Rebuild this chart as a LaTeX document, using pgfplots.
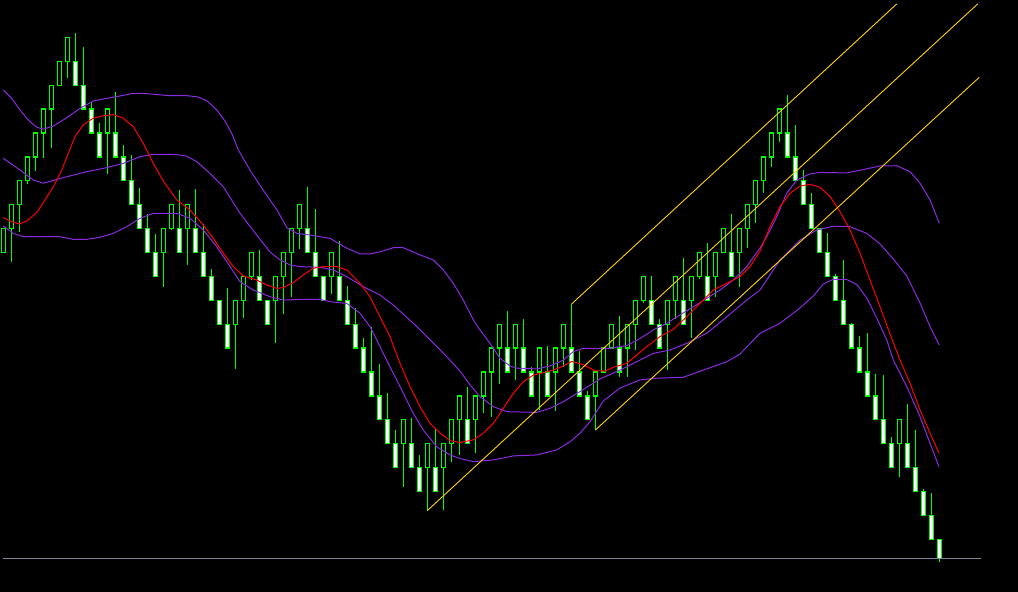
\documentclass[border=0pt]{standalone}
\usepackage{pgfplots}
\usepackage{pgfplotstable}
\pgfplotsset{compat=1.18}

\definecolor{candle}{RGB}{0,255,0}
\definecolor{band}{RGB}{138,43,226}
\definecolor{ma}{RGB}{255,0,0}
\definecolor{chan}{RGB}{255,210,0}
\definecolor{bid}{RGB}{119,136,153}

% renko bricks: index, open, high, low, close (brick units)
\pgfplotstableread{
i o h l c
0 12 13 12 13
1 13 14 11.6 14
2 14 15 12.85 15
3 15 16 14.85 16
4 16 17 15.4 17
5 17 18 15.94 18
6 18 19 16.36 19
7 19 20 19 20
8 20 21 19.29 21
9 20 21.2 19 19
10 19 20.6 18 18
11 18 18.3 17 17
12 17 17.4 16 16
13 17 18 15.28 18
14 17 18.7 16 16
15 16 16.5 15 15
16 15 16.1 14 14
17 14 14.7 13 13
18 13 13.6 12 12
19 12 12.77 11 11
20 12 13 10.57 13
21 13 14 12.94 14
22 13 14.6 12 12
23 13 14 11.48 14
24 13 14.66 12 12
25 12 13.2 11 11
26 11 11.3 10 10
27 10 10 9 9
28 9 10.5 8 8
29 9 10 7.14 10
30 10 11 9.25 11
31 11 12 10.85 12
32 11 12.1 10 10
33 10 10 9 9
34 10 11 8.2 11
35 11 12 9.41 12
36 12 13 10.15 13
37 13 14 12.13 14
38 13 14.75 12 12
39 12 13.8 11 11
40 11 11 10 10
41 11 12 10.25 12
42 11 12.48 10 10
43 10 10.6 9 9
44 9 9.66 8 8
45 8 8.41 7 7
46 7 8.9 6 6
47 6 7.33 5 5
48 5 6.13 4 4
49 4 4.57 3 3
50 4 5 2.2 5
51 4 5.08 3 3
52 3 3.53 2 2
53 3 4 1.2 4
54 3 4.64 2 2
55 3 4 1.23 4
56 4 5 3.22 5
57 5 6 3.53 6
58 5 6.38 4 4
59 5 6 3.6 6
60 6 7 5.3 7
61 7 8 5.13 8
62 8 9 6.5 9
63 8 9.55 7 7
64 8 9 6.67 9
65 8 9.22 7 7
66 7 7.22 6 6
67 7 8 5.41 8
68 7 8.1 6 6
69 7 8 5.38 8
70 8 9 7.2 9
71 8 9.85 7 7
72 7 7.88 6 6
73 6 6.2 5 5
74 6 7 4.57 7
75 7 8 7 8
76 8 9 8 9
77 8 9.34 6.8 7
78 8 9 6.8 9
79 9 10 7.9 10
80 10 11 9.9 11
81 10 11 9 9
82 9 9.2 8 8
83 9 10 7.08 10
84 10 11 9.2 11
85 10 11.76 9 9
86 10 11 8.41 11
87 11 12 10.9 12
88 11 12.4 10 10
89 11 12 10.15 12
90 12 13 12 13
91 12 13.6 11 11
92 12 13 10.57 13
93 13 14 12.2 14
94 14 15 13.25 15
95 15 16 14.48 16
96 16 17 15.56 17
97 17 18 16.64 18
98 17 18.59 16 16
99 16 17.33 15 15
100 15 15.45 14 14
101 14 14.48 13 13
102 13 13 12 12
103 12 12.83 11 11
104 11 11.1 10 10
105 10 11.69 9 9
106 9 9.07 8 8
107 8 8.5 7 7
108 7 8.63 6 6
109 6 6.92 5 5
110 5 6.87 4 4
111 4 4.28 3 3
112 4 5 2.62 5
113 4 5.66 3 3
114 3 4.57 2 2
115 2 2.1 1 1
116 1 1.94 0 0
117 0 0 -0.94 -0.8
}\candles

\begin{document}
\begin{tikzpicture}
\begin{axis}[
    width=1018pt, height=592pt, scale only axis,
    xmin=-0.4125, xmax=126.8375,
    ymin=-2.205, ymax=22.565,
    axis line style={draw=none},
    ticks=none,
    axis background/.style={fill=black},
    wick/.style={candle, line width=1.3pt},
    body/.style={draw=candle, line width=1.3pt},
  ]

  \pgfplotstablegetrowsof{\candles}
  \pgfmathtruncatemacro{\lastrow}{\pgfplotsretval-1}
  \pgfplotsforeachungrouped \k in {0,...,\lastrow}{%
    \pgfplotstablegetelem{\k}{i}\of\candles \let\ci=\pgfplotsretval
    \pgfplotstablegetelem{\k}{o}\of\candles \let\co=\pgfplotsretval
    \pgfplotstablegetelem{\k}{h}\of\candles \let\ch=\pgfplotsretval
    \pgfplotstablegetelem{\k}{l}\of\candles \let\cl=\pgfplotsretval
    \pgfplotstablegetelem{\k}{c}\of\candles \let\cc=\pgfplotsretval
    \pgfmathsetmacro{\xa}{\ci-0.24}%
    \pgfmathsetmacro{\xb}{\ci+0.24}%
    \pgfmathtruncatemacro{\up}{\cc>\co ? 1 : 0}%
    \ifnum\up=1 \def\bfill{black}\else\def\bfill{white}\fi
    \edef\doplot{%
      \noexpand\addplot[wick] coordinates {(\ci,\cl) (\ci,\ch)};
      \noexpand\addplot[body, fill=\bfill] coordinates
        {(\xa,\co) (\xb,\co) (\xb,\cc) (\xa,\cc) (\xa,\co)};
    }%
    \doplot
  }

  % upper band
  \addplot[band, line width=1pt] coordinates {
    (0,18.80) (1.05,18.45) (2.09,17.96) (3.13,17.54) (4.18,17.24) (5,17.16)
    (6.25,17.29) (7.93,17.64) (9.59,18.03) (11.25,18.34) (12.93,18.45)
    (14.59,18.55) (16.25,18.66) (17.5,18.66) (20.84,18.56) (22.71,18.57)
    (24.34,18.51) (25.46,18.34) (26.59,18.00) (27.71,17.50) (28.59,16.96)
    (29.38,16.29) (30.84,15.45) (32.46,14.62) (34.21,13.78) (35.46,13.03)
    (36.71,12.80) (38.34,12.73) (40.84,12.59) (42.93,12.18) (44.59,11.94)
    (45.84,11.94) (47.09,12.03) (48.75,12.20) (50,12.20) (52.09,11.90)
    (53.75,11.69) (55,11.27) (56.25,10.71) (57.5,10.01) (58.75,9.18)
    (59.59,8.76) (60.84,8.20) (62.09,7.57) (63.34,7.25) (64.18,7.16)
    (66.68,7.13) (68.34,7.25) (70,7.50) (71.25,7.85) (72.5,7.99) (74.18,7.98)
    (75.84,7.99) (77.93,8.11) (79.59,8.40) (81.25,8.76) (82.93,9.04)
    (84.59,9.39) (86.25,9.73) (87.93,10.08) (89.59,10.43) (91.25,10.85)
    (92.93,11.41) (94.59,12.19) (95.43,12.66) (96.68,13.50) (97.93,14.48)
    (99.18,15.03) (100.84,15.29) (102.09,15.35) (105.43,15.33) (107.5,15.47)
    (109.59,15.62) (111.68,15.63) (113.34,15.38) (114.59,14.90) (115.84,14.20)
    (117,13.22)
  };
  % middle band
  \addplot[band, line width=1pt] coordinates {
    (0,15.94) (2.09,15.45) (3.75,15.03) (5,14.90) (7.93,15.17) (10.43,15.38)
    (12.93,15.55) (15,15.73) (17.09,16.01) (18.75,16.11) (21.46,16.10)
    (22.84,16.04) (24.18,15.80) (25.84,15.31) (27.5,14.75) (29.59,13.64)
    (31.68,12.73) (33.34,12.02) (34.59,11.69) (35.84,11.48) (37.09,11.41)
    (39.59,11.38) (41.25,11.27) (42.93,10.99) (45,10.57) (47.09,10.22)
    (48.75,9.80) (51.25,9.04) (53.34,8.34) (55.43,7.64) (57.09,7.04)
    (58.34,6.46) (59.59,5.97) (61.25,5.55) (62.93,5.34) (66.68,5.31)
    (68.34,5.48) (70,5.76) (72.09,6.18) (74.59,6.71) (77.09,7.08) (79.59,7.50)
    (81.25,7.78) (83.34,7.92) (85.43,8.20) (87.93,8.62) (90.43,9.31)
    (92.93,10.01) (94.59,10.43) (97.09,11.69) (99.59,12.52) (101.68,12.94)
    (103.75,13.10) (105.84,13.08) (107.93,12.80) (109.59,12.36) (111.25,11.73)
    (112.93,11.02) (114.59,9.89) (115.84,8.90) (117,8.13)
  };
  % lower band
  \addplot[band, line width=1pt] coordinates {
    (0,13.11) (1.25,12.80) (2.5,12.66) (7.09,12.66) (8.75,12.55) (10.43,12.55)
    (12.09,12.64) (13.75,12.80) (15.43,13.08) (17.09,13.43) (18.75,13.64)
    (21.68,13.64) (23.34,13.43) (25,12.94) (26.68,12.24) (28.34,11.41)
    (29.59,10.78) (31.25,10.43) (33.34,10.15) (35,10.01) (37.5,10.04)
    (39.59,10.04) (40.84,9.94) (42.93,9.87) (44.59,9.46) (45.84,8.90)
    (47.09,8.06) (48.34,7.22) (49.59,6.39) (51.25,5.27) (52.5,4.57)
    (54.18,3.87) (55.84,3.53) (57.09,3.38) (58.75,3.25) (61.25,3.32)
    (63.75,3.49) (66.68,3.53) (69.18,3.74) (70.84,4.08) (72.09,4.44)
    (73.34,4.92) (75,5.79) (77.09,6.33) (79.59,6.67) (81.68,6.74) (85,6.78)
    (87.5,7.08) (90.43,7.43) (92.09,7.75) (94.59,8.62) (97.09,9.04)
    (99.59,9.68) (101.25,10.18) (102.5,10.68) (103.75,10.88) (105.43,10.87)
    (106.68,10.66) (107.93,10.10) (109.18,9.26) (110.43,8.34) (111.25,7.50)
    (112.93,6.39) (114.59,5.13) (115.84,4.02) (116.96,3.04)
  };
  % moving average
  \addplot[ma, line width=1pt] coordinates {
    (0,13.46) (1.05,13.29) (2,13.19) (2.93,13.32) (4.18,13.67) (5.21,14.20)
    (6.25,14.75) (7.3,15.45) (8.13,16.15) (8.96,16.85) (10,17.34) (11.25,17.62)
    (12.5,17.72) (13.75,17.77) (15,17.62) (16.25,17.26) (17.5,16.57)
    (18.75,15.73) (20,14.99) (21.68,14.20) (23.34,13.78) (25,13.15)
    (26.25,12.59) (27.5,11.97) (28.75,11.41) (30,11.02) (31.68,10.85)
    (32.93,10.64) (34.18,10.50) (35,10.53) (36.25,10.74) (37.5,11.06)
    (38.75,11.34) (40,11.41) (41.68,11.41) (42.93,11.27) (44.59,10.71)
    (45.84,10.15) (47.09,9.31) (48.34,8.48) (49.59,7.36) (50.84,6.39)
    (52.09,5.55) (53.34,4.85) (54.59,4.45) (55.84,4.13) (57.09,4.05)
    (58.75,4.16) (60,4.44) (61.25,4.85) (62.5,5.48) (63.75,6.11) (65,6.59)
    (66.25,6.87) (67.5,6.97) (68.75,7.08) (70,7.25) (71.05,7.44) (72.5,7.31)
    (73.96,7.05) (75.21,7.04) (76.46,7.22) (77.93,7.36) (79.18,7.71)
    (80.43,8.06) (82.09,8.48) (83.75,8.79) (85.43,9.31) (87.09,9.87)
    (88.75,10.43) (90.43,10.71) (92.09,10.99) (93.34,11.41) (94.59,12.06)
    (95.84,13.08) (97.09,13.92) (98.34,14.48) (99.59,14.78) (100.84,14.85)
    (102.09,14.73) (103.34,14.34) (104.59,13.71) (105.84,12.94) (107.09,11.97)
    (108.34,10.85) (109.59,9.73) (110.84,8.59) (112.09,7.50) (113.34,6.53)
    (114.59,5.41) (115.84,4.44) (116.96,3.60)
  };

  % regression channel
  \addplot[chan, line width=0.9pt] coordinates {(71.05,9.85) (111.68,22.40)};
  \addplot[chan, line width=0.9pt] coordinates {(53,1.2) (121.8,22.40)};
  \addplot[chan, line width=0.9pt] coordinates {(74,4.57) (122,19.33)};

  % bid line
  \addplot[bid, line width=1pt] coordinates {(0,-0.8) (122.2,-0.8)};
\end{axis}
\end{tikzpicture}
\end{document}
